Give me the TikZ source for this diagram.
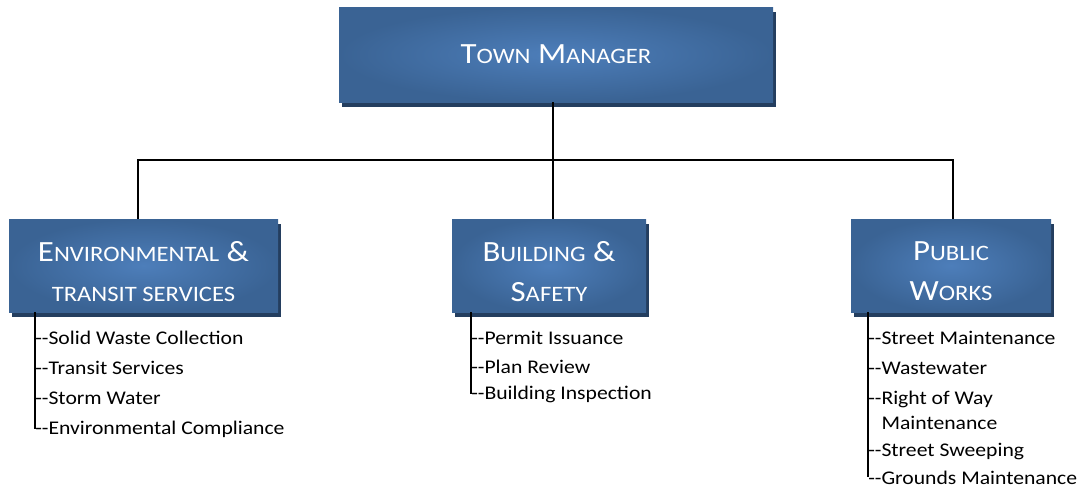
\documentclass[tikz,border=0pt]{standalone}
\usepackage{fontspec}
\setmainfont{Carlito}[FakeStretch=1.12]
\usetikzlibrary{shadows}
\definecolor{boxedge}{HTML}{3A6394}
\definecolor{boxmid}{HTML}{4D7EBA}
\definecolor{boxshadow}{HTML}{243E5F}
\newcommand\boxcapfont{\fontsize{22}{30}\selectfont}
\newcommand\smc[1]{{\fontsize{16.5}{20}\selectfont #1}}
\tikzset{
  orgbox/.style={rectangle, inner sep=0pt, shading=radial, inner color=boxmid, outer color=boxedge,
    drop shadow={shadow xshift=2.25pt, shadow yshift=-4pt, fill=boxshadow, opacity=1}},
  boxtext/.style={inner sep=0pt, text=white, align=center, font=\boxcapfont},
  conn/.style={line width=1.3pt, black},
  item/.style={anchor=base west, inner sep=0pt, font=\fontsize{14.5}{18}\selectfont, text=black}
}
\begin{document}
\begin{tikzpicture}[x=0.75pt,y=-0.75pt]
\useasboundingbox (0,0) rectangle (1078,490);
% boxes
\node[orgbox, minimum width=325.5pt, minimum height=71.25pt] (town) at (556,54.5) {};
\node[boxtext] (townT) at (town.center) {T\smc{OWN} M\smc{ANAGER}};
\node[orgbox, minimum width=201.75pt, minimum height=69.75pt] (env) at (143.5,265.5) {};
\node[boxtext] (envT) at ([yshift=-4.5pt]env.center) {E\smc{NVIRONMENTAL} \&\\\smc{TRANSIT SERVICES}};
\node[orgbox, minimum width=145.5pt, minimum height=69.75pt] (build) at (549,265.5) {};
\node[boxtext] (buildT) at ([yshift=-4.5pt]build.center) {B\smc{UILDING} \&\\S\smc{AFETY}};
\node[orgbox, minimum width=150pt, minimum height=69.75pt] (pw) at (951,265.5) {};
\node[boxtext] (pwT) at ([yshift=-4.5pt]pw.center) {P\smc{UBLIC}\\W\smc{ORKS}};
% connectors
\coordinate (bus) at (553,160);
\draw[conn] (town.south -| bus) -- (bus);
\draw[conn] ([xshift=-4pt]env.north) -- ([xshift=-4pt]env.north |- bus) -- ([xshift=1.5pt]pw.north |- bus) -- ([xshift=1.5pt]pw.north);
\draw[conn] (build.north -| bus) -- (bus);
% lists
\coordinate (envL) at (35,0);
\coordinate (bldL) at (471,0);
\coordinate (pwL) at (868,0);
\node[item] (e1) at (35,344) {-{}-Solid Waste Collection};
\node[item] (e2) at (35,374) {-{}-Transit Services};
\node[item] (e3) at (35,404) {-{}-Storm Water};
\node[item] (e4) at (35,434) {-{}-Environmental Compliance};
\draw[conn] (env.south -| envL) -- (envL |- e4.west);
\node[item] (b1) at (471,344) {-{}-Permit Issuance};
\node[item] (b2) at (471,373) {-{}-Plan Review};
\node[item] (b3) at (471,399) {-{}-Building Inspection};
\draw[conn] (build.south -| bldL) -- (bldL |- b3.west);
\node[item] (p1) at (868,344) {-{}-Street Maintenance};
\node[item] (p2) at (868,374) {-{}-Wastewater};
\node[item] (p3) at (868,404) {-{}-Right of Way};
\node[item] (p3b) at (868,429) {\phantom{-{}-}Maintenance};
\node[item] (p4) at (868,456) {-{}-Street Sweeping};
\node[item] (p5) at (868,484) {-{}-Grounds Maintenance};
\draw[conn] (pw.south -| pwL) -- (pwL |- p5.west);
\end{tikzpicture}
\end{document}
